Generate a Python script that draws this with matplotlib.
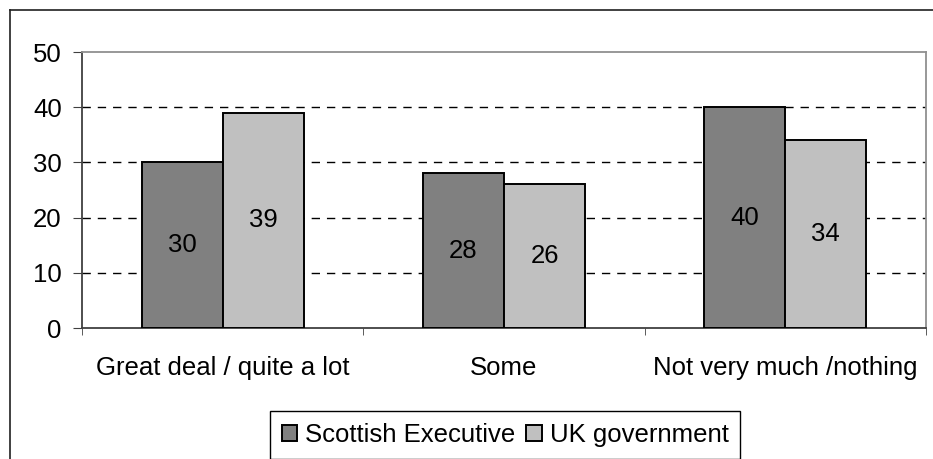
import numpy as np
import matplotlib.pyplot as plt
from matplotlib.lines import Line2D

plt.rcParams['font.family'] = ['Liberation Sans', 'DejaVu Sans']

categories = ["Great deal / quite a lot", "Some", "Not very much /nothing"]
scottish = [30, 28, 40]
uk = [39, 26, 34]
series_names = ["Scottish Executive", "UK government"]
yticks = [0, 10, 20, 30, 40, 50]

FS = 18.5
W, H = 933, 459
fig = plt.figure(figsize=(W / 100, H / 100), dpi=100)
ax = fig.add_axes([82 / W, 1 - 328 / H, (926 - 82) / W, (328 - 52) / H])

# outer chart frame (cropped: only left and top edges show)
fig.add_artist(Line2D([10 / W, 10 / W], [0, 1 - 10 / H], color='#202020', lw=1.2, transform=fig.transFigure))
fig.add_artist(Line2D([10 / W, 1], [1 - 10 / H, 1 - 10 / H], color='#202020', lw=1.2, transform=fig.transFigure))

x = np.arange(len(categories))
w = 0.288
b1 = ax.bar(x - w / 2, scottish, w, color='#808080', edgecolor='black', lw=1.4, label=series_names[0], zorder=3)
b2 = ax.bar(x + w / 2, uk, w, color='#c0c0c0', edgecolor='black', lw=1.4, label=series_names[1], zorder=3)

for bars, vals in [(b1, scottish), (b2, uk)]:
    for r, v in zip(bars, vals):
        ax.text(r.get_x() + r.get_width() / 2, v / 2, str(v), ha='center', va='center', fontsize=FS, zorder=4)

ax.set_xlim(-0.5, len(categories) - 0.5)
ax.set_ylim(0, 50)
ax.set_yticks(yticks)
ax.set_yticklabels([str(t) for t in yticks], fontsize=FS)
ax.set_xticks(x)
ax.set_xticklabels(categories, fontsize=FS)
ax.set_xticks(np.arange(len(categories) + 1) - 0.5, minor=True)
ax.tick_params(axis='x', which='major', length=0, pad=20)
ax.tick_params(axis='x', which='minor', length=5, direction='out', color='#404040')
ax.tick_params(axis='y', length=6.5, direction='out', pad=8, color='#404040')

for t in yticks[1:-1]:
    ax.axhline(t, color='black', lw=1, ls=(0, (6, 5)), zorder=1)

ax.spines['left'].set_color('#404040')
ax.spines['bottom'].set_color('#404040')
ax.spines['top'].set_color('#909090')
ax.spines['right'].set_color('#909090')
for s in ax.spines.values():
    s.set_linewidth(1.3)

leg = fig.legend(handles=[b1, b2], loc='center', bbox_to_anchor=(505 / W, 1 - 435 / H), ncol=2,
                 fontsize=FS, frameon=True, fancybox=False, framealpha=1, edgecolor='black',
                 handlelength=0.6, handleheight=0.6, handletextpad=0.3, columnspacing=0.45,
                 borderpad=0.45, borderaxespad=0)
leg.get_frame().set_linewidth(1)

fig.savefig('out.png', dpi=100)
